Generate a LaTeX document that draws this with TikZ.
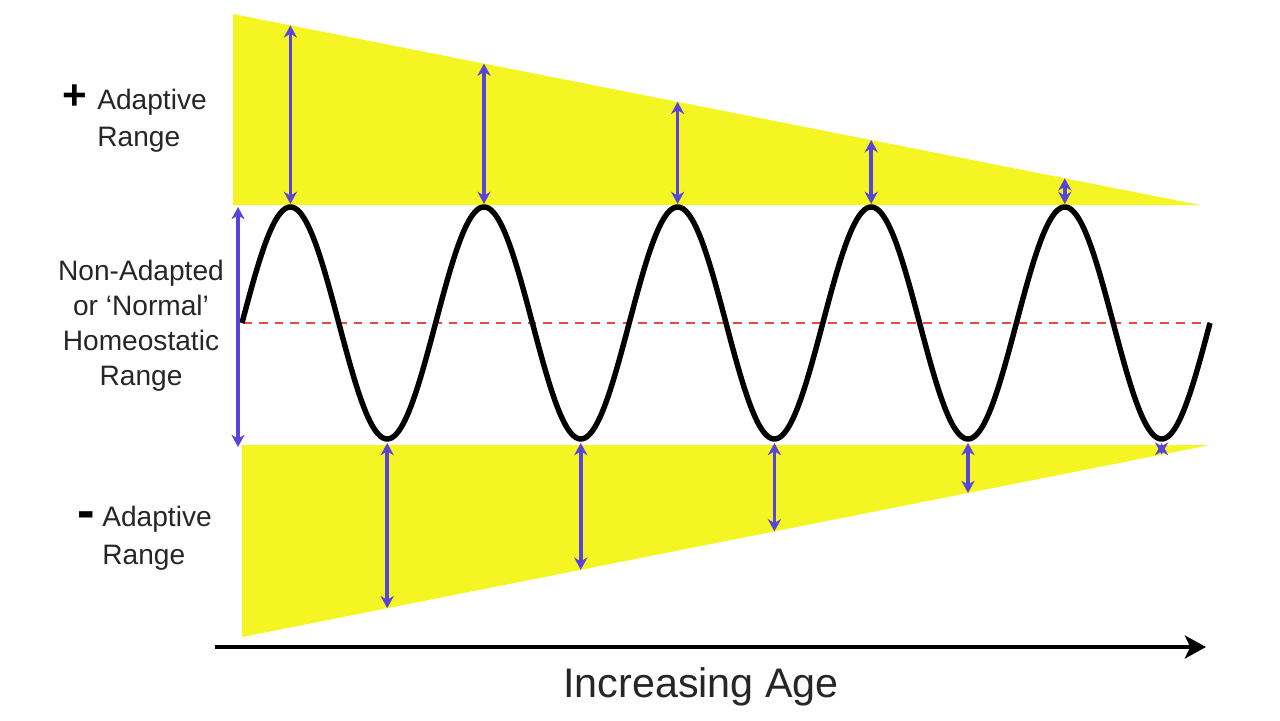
\documentclass[tikz,border=0pt]{standalone}
\usepackage{fontspec}
\setmainfont{Liberation Sans}
\usetikzlibrary{arrows.meta}
\definecolor{adyellow}{RGB}{245,245,35}
\definecolor{adblue}{RGB}{88,68,218}
\definecolor{adred}{RGB}{228,72,72}
\begin{document}
\begin{tikzpicture}[x=0.02cm,y=-0.02cm,
  rangearrow/.style={draw=adblue,line width=2pt,{Stealth[length=7pt,width=7.5pt]}-{Stealth[length=7pt,width=7.5pt]}},
  lbl/.style={inner sep=0pt,font=\fontsize{16}{20}\selectfont,text=black!85},
  sign/.style={inner sep=0pt,font=\bfseries\fontsize{24}{24}\selectfont}]
\useasboundingbox (0,0) rectangle (1280,720);
% yellow regions
\fill[adyellow] (233,14) -- (1200,205) -- (233,205) -- cycle;
\fill[adyellow] (242,445) -- (1210,445) -- (242,637) -- cycle;
% midline
\draw[adred,line width=1.3pt,dash pattern=on 5pt off 4pt] (243,323) -- (1210,323);
% sine wave
\draw[black,line width=3.1pt,line join=round] plot[domain=0:1800,samples=500] ({242+\x/360*193.6},{323-116*sin(\x)});
% coordinates for arrows
\foreach \i in {0,...,4}{
  \pgfmathsetmacro{\px}{242+193.6*(\i+0.25)}
  \pgfmathsetmacro{\ty}{14+(\px-233)/967*191}
  \coordinate (pt\i) at (\px,\ty);
  \coordinate (pb\i) at (\px,204);
  \pgfmathsetmacro{\qx}{242+193.6*(\i+0.75)}
  \pgfmathsetmacro{\by}{637-(\qx-242)/968*192}
  \coordinate (qt\i) at (\qx,443);
  \coordinate (qb\i) at (\qx,\by);
}
\foreach \i in {0,...,4}{
  \draw[rangearrow] (pt\i) -- (pb\i);
  \draw[rangearrow] (qt\i) -- (qb\i);
}
\coordinate (ltop) at (238,207);
\coordinate (lbot) at (238,447);
\draw[rangearrow] (ltop) -- (lbot);
% axis
\coordinate (axstart) at (215,647);
\coordinate (axend) at (1206,647);
\draw[black,line width=2.3pt,-{Stealth[length=12pt,width=13pt,inset=3pt]}] (axstart) -- (axend);
% labels
\node[sign] (plus) at (75,97) {+};
\node[lbl,anchor=base west,align=left,font=\fontsize{16}{21}\selectfont] (upl) at (97,146) {Adaptive\\Range};
\node[sign,font=\bfseries\fontsize{30}{30}\selectfont] (minus) at (86,520) {-};
\node[lbl,anchor=base west,align=left,font=\fontsize{16}{21.5}\selectfont] (lowl) at (102,564) {Adaptive\\Range};
\node[lbl,anchor=base,align=center,font=\fontsize{16}{19.8}\selectfont] (midl) at (141,385) {Non-Adapted\\or `Normal'\\Homeostatic\\Range};
\node[inner sep=0pt,anchor=base,font=\fontsize{23.5}{28}\selectfont,text=black!85] (age) at (701,697) {Increasing Age};
\end{tikzpicture}
\end{document}
